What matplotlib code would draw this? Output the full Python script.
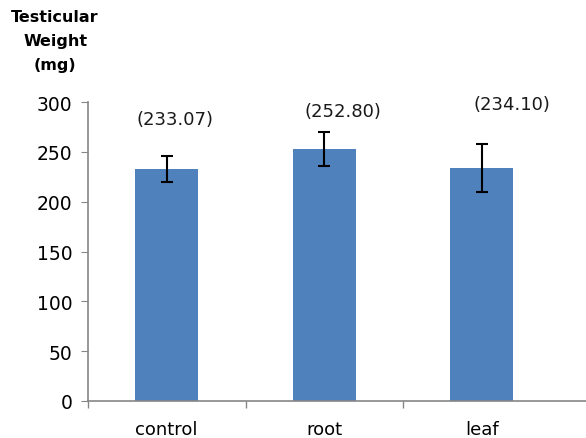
import matplotlib.pyplot as plt
import numpy as np

# Testicular weight per treatment group
groups = ['control', 'root', 'leaf']
weights = [233.07, 252.80, 234.10]
errors = [13, 17, 24]
value_labels = ['(233.07)', '(252.80)', '(234.10)']

fig = plt.figure(figsize=(5.86, 4.39), dpi=100)
ax = fig.add_axes([0.150, 0.0843, 0.85, 0.681])

x = np.arange(len(groups))
ax.bar(x, weights, width=0.4, color='#4F81BD', zorder=2)
ax.errorbar(x, weights, yerr=errors, fmt='none', ecolor='black',
            elinewidth=1.5, capsize=4.3, capthick=1.5, zorder=3)

# value labels sit above the bars, nudged right like the original sheet
label_dx = [0.05, 0.12, 0.19]
label_y = [283, 291, 298]
for xi, dx, ly, txt in zip(x, label_dx, label_y, value_labels):
    ax.text(xi + dx, ly, txt, ha='center', va='center', fontsize=13,
            color='#1a1a1a')

ax.set_ylim(0, 300)
ax.set_xlim(-0.5, 2.66)
ax.set_yticks(range(0, 301, 50))
ax.set_xticks(x)
ax.set_xticklabels(groups, fontsize=13)
ax.set_xticks([-0.5, 0.5, 1.5], minor=True)
ax.tick_params(axis='x', which='major', length=0, pad=14)
ax.tick_params(axis='x', which='minor', length=5, color='#868686', width=1)
ax.tick_params(axis='y', length=5, color='#868686', labelsize=13.5, pad=6)

for side in ['top', 'right']:
    ax.spines[side].set_visible(False)
for side in ['left', 'bottom']:
    ax.spines[side].set_color('#868686')
    ax.spines[side].set_linewidth(1.2)

fig.text(0.094, 0.978, 'Testicular\nWeight\n(mg)', ha='center', va='top',
         fontsize=11.5, fontweight='bold', linespacing=1.75)

fig.savefig('out.png', dpi=100)
